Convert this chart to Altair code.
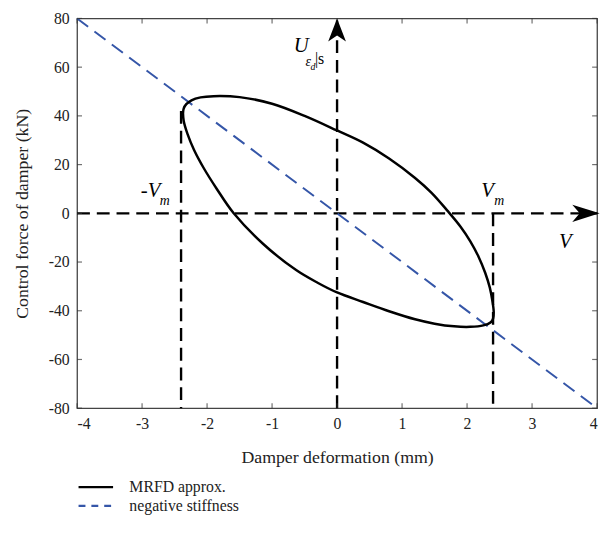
import altair as alt
import pandas as pd

# ---- data ----
loop_x = [-2.37, -2.36, -2.32, -2.24, -2.1, -1.9, -1.5, -1.0, -0.5, 0.0, 0.4, 0.8, 1.2,
          1.45, 1.7, 1.9, 2.05, 2.18, 2.28, 2.35, 2.39, 2.41, 2.40, 2.36, 2.25, 2.05,
          1.8, 1.5, 1.2, 0.8, 0.4, 0.0, -0.3, -0.63, -1.14, -1.59, -1.85, -2.05, -2.2,
          -2.3, -2.36, -2.37]
loop_y = [41.0, 43.0, 44.8, 46.4, 47.6, 48.1, 47.7, 45.0, 40.0, 34.0, 29.0, 22.5, 14.5,
          8.5, 1.0, -5.5, -11.5, -18.0, -24.5, -30.5, -36.0, -40.5, -43.2, -44.8, -46.0,
          -46.6, -46.4, -45.3, -43.5, -40.2, -36.4, -32.5, -28.5, -23.3, -12.5, 0.0, 10.0,
          18.5, 26.0, 32.5, 38.0, 41.0]

neg_x = [-4, 4]
neg_y = [80, -80]

series_names = ["MRFD approx.", "negative stiffness"]

x_ticks = [-4, -3, -2, -1, 0, 1, 2, 3, 4]
y_ticks = [-80, -60, -40, -20, 0, 20, 40, 60, 80]

guide_x1 = [-4.0, 0.0, -2.4, 2.4]
guide_x2 = [4.0, 0.0, -2.4, 2.4]
guide_y1 = [0.0, -80.0, 42.0, 0.0]
guide_y2 = [0.0, 80.0, -80.0, -80.0]

arrow_up_x = [0.0]
arrow_up_y = [80.0]
arrow_right_x = [4.04]
arrow_right_y = [0.0]

big_text = ["U", "-V", "V", "V"]
big_x = [-0.55, -2.87, 2.314, 3.51]
big_y = [68.6, 9.1, 9.1, -11.9]

sub_text = ["ε", "m", "m"]
sub_x = [-0.445, -2.65, 2.496]
sub_y = [62.0, 5.1, 5.1]

subsub_text = ["d"]
subsub_x = [-0.37]
subsub_y = [60.2]

plain_text = ["|s"]
plain_x = [-0.27]
plain_y = [63.2]

# ---- tables ----
loop_df = pd.DataFrame({"x": loop_x, "y": loop_y, "i": list(range(len(loop_x)))})
neg_df = pd.DataFrame({"x": neg_x, "y": neg_y})
guide_df = pd.DataFrame({"x": guide_x1, "x2": guide_x2, "y": guide_y1, "y2": guide_y2})
legend_df = pd.DataFrame({"x": [0.0, 0.0], "y": [0.0, 0.0], "series": series_names})
up_df = pd.DataFrame({"x": arrow_up_x, "y": arrow_up_y})
right_df = pd.DataFrame({"x": arrow_right_x, "y": arrow_right_y})
big_df = pd.DataFrame({"x": big_x, "y": big_y, "t": big_text})
sub_df = pd.DataFrame({"x": sub_x, "y": sub_y, "t": sub_text})
subsub_df = pd.DataFrame({"x": subsub_x, "y": subsub_y, "t": subsub_text})
plain_df = pd.DataFrame({"x": plain_x, "y": plain_y, "t": plain_text})
xtick_bottom_df = pd.DataFrame({"x": x_ticks, "y": [y_ticks[0]] * len(x_ticks)})
xtick_top_df = pd.DataFrame({"x": x_ticks, "y": [y_ticks[-1]] * len(x_ticks)})
ytick_left_df = pd.DataFrame({"x": [x_ticks[0]] * len(y_ticks), "y": y_ticks})
ytick_right_df = pd.DataFrame({"x": [x_ticks[-1]] * len(y_ticks), "y": y_ticks})

FONT = "Liberation Serif"
INK = "#222222"
BLUE = "#3556a8"

xs = alt.Scale(domain=[-4, 4], nice=False, zero=False)
ys = alt.Scale(domain=[-80, 80], nice=False, zero=False)

main_x_axis = alt.Axis(values=x_ticks, ticks=False, domain=False, grid=False,
                       labelExpr="'' + datum.value", labelFont=FONT, labelFontSize=16,
                       labelColor=INK, labelPadding=8, title="Damper deformation (mm)",
                       titleFont=FONT, titleFontSize=18, titleFontWeight="normal",
                       titleColor=INK, titlePadding=17)
main_y_axis = alt.Axis(values=y_ticks, ticks=False, domain=False, grid=False,
                       labelExpr="'' + datum.value", labelFont=FONT, labelFontSize=16,
                       labelColor=INK, labelPadding=8, title="Control force of damper (kN)",
                       titleFont=FONT, titleFontSize=18, titleFontWeight="normal",
                       titleColor=INK, titlePadding=17)

X = alt.X("x:Q", scale=xs, axis=main_x_axis)
Y = alt.Y("y:Q", scale=ys, axis=main_y_axis)

guides = alt.Chart(guide_df).mark_rule(color="black", strokeWidth=2.4, strokeDash=[13, 7]).encode(
    x=X, x2="x2:Q", y=Y, y2="y2:Q")

neg = alt.Chart(neg_df).mark_line(color=BLUE, strokeWidth=2, strokeDash=[14, 8]).encode(x=X, y=Y)

loop = alt.Chart(loop_df).mark_line(color="black", strokeWidth=2.5, interpolate="catmull-rom").encode(
    x=X, y=Y, order="i:Q")

legend_layer = alt.Chart(legend_df).transform_filter("false").mark_line(strokeWidth=2.5).encode(
    x=X, y=Y,
    color=alt.Color("series:N", scale=alt.Scale(domain=series_names, range=["black", BLUE]),
                    legend=alt.Legend(title="", orient="none", legendX=0, legendY=467,
                                      symbolType="stroke", symbolSize=1225,
                                      symbolStrokeWidth=2.5, labelFont=FONT,
                                      labelFontSize=16, labelColor=INK, labelOffset=15,
                                      clipHeight=16, rowPadding=3, padding=0)),
    strokeDash=alt.StrokeDash("series:N", scale=alt.Scale(domain=series_names,
                                                          range=[[1, 0], [7, 6]])),
)

tick_style = dict(color="#333333", size=5, thickness=1.2)
ticks_bottom = alt.Chart(xtick_bottom_df).mark_tick(orient="vertical", yOffset=-2.5, **tick_style).encode(x=X, y=Y)
ticks_top = alt.Chart(xtick_top_df).mark_tick(orient="vertical", yOffset=2.5, **tick_style).encode(x=X, y=Y)
ticks_left = alt.Chart(ytick_left_df).mark_tick(orient="horizontal", xOffset=2.5, **tick_style).encode(x=X, y=Y)
ticks_right = alt.Chart(ytick_right_df).mark_tick(orient="horizontal", xOffset=-2.5, **tick_style).encode(x=X, y=Y)

up_arrow = alt.Chart(up_df).mark_point(shape="M0,0 L0.6,1.55 L0,1.15 L-0.6,1.55 Z",
                                       filled=True, color="black", opacity=1, size=900).encode(x=X, y=Y)

right_arrow = alt.Chart(right_df).mark_point(shape="M0,0 L-1.85,0.58 L-1.35,0 L-1.85,-0.58 Z",
                                             filled=True, color="black", opacity=1, size=900).encode(x=X, y=Y)


def text_layer(df, size, italic=True):
    kw = dict(font=FONT, fontSize=size, color="black", align="center", baseline="middle")
    if italic:
        kw["fontStyle"] = "italic"
    return alt.Chart(df).mark_text(**kw).encode(x=X, y=Y, text="t:N")


chart = alt.layer(
    guides, neg, loop, legend_layer,
    ticks_bottom, ticks_top, ticks_left, ticks_right,
    up_arrow, right_arrow,
    text_layer(big_df, 21), text_layer(sub_df, 14), text_layer(subsub_df, 10),
    text_layer(plain_df, 16, italic=False),
).properties(
    width=527, height=395,
    autosize=alt.AutoSizeParams(type="none"),
    padding={"left": 70, "top": 7, "right": 5, "bottom": 130},
    background="white",
).configure_view(stroke="#444444", strokeWidth=1.3).configure_axis(
    labelFont=FONT, titleFont=FONT
).configure_legend(labelFont=FONT).configure_text(font=FONT)

chart.save("out.html", embed_options={"renderer": "svg", "actions": False})
